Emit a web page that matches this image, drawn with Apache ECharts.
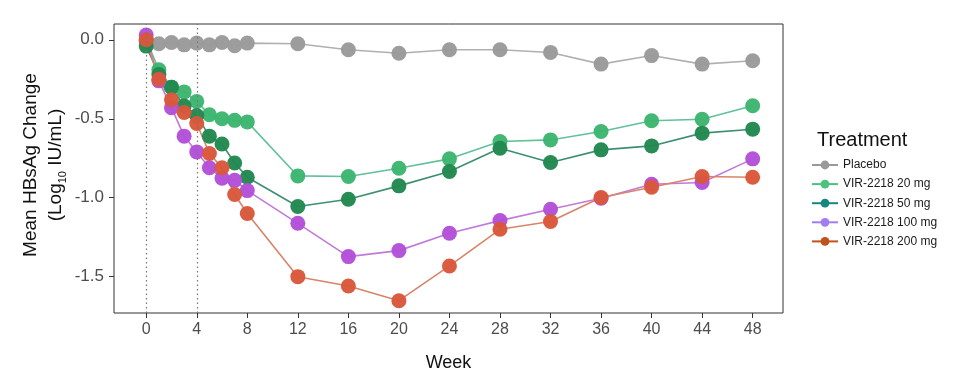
<!DOCTYPE html>
<html>
<head>
<meta charset="utf-8">
<script src="https://cdn.jsdelivr.net/npm/echarts@6/dist/echarts.min.js"></script>
<style>html,body{margin:0;padding:0;background:#fff}#c{width:961px;height:382px}</style>
</head>
<body>
<div id="c"></div>
<script>
const weeks = [0,1,2,3,4,5,6,7,8,12,16,20,24,28,32,36,40,44,48];
const xTicks = [0,4,8,12,16,20,24,28,32,36,40,44,48];
const yTicks = [0,-0.5,-1,-1.5];
const seriesNames = ['Placebo','VIR-2218 20 mg','VIR-2218 50 mg','VIR-2218 100 mg','VIR-2218 200 mg'];
const placebo = [-0.01,-0.025,-0.017,-0.032,-0.021,-0.032,-0.017,-0.038,-0.021,-0.025,-0.063,-0.085,-0.063,-0.063,-0.08,-0.154,-0.10,-0.154,-0.133];
const mg20  = [0,-0.19,-0.30,-0.33,-0.39,-0.475,-0.50,-0.51,-0.52,-0.862,-0.866,-0.813,-0.754,-0.644,-0.634,-0.581,-0.513,-0.503,-0.418];
const mg50  = [-0.04,-0.22,-0.30,-0.42,-0.48,-0.61,-0.66,-0.78,-0.87,-1.056,-1.01,-0.925,-0.834,-0.687,-0.777,-0.697,-0.672,-0.591,-0.566];
const mg100 = [0.03,-0.26,-0.43,-0.61,-0.71,-0.81,-0.876,-0.89,-0.955,-1.162,-1.373,-1.335,-1.225,-1.145,-1.073,-1.003,-0.915,-0.904,-0.754];
const mg200 = [0,-0.25,-0.38,-0.46,-0.53,-0.72,-0.81,-0.98,-1.10,-1.50,-1.559,-1.652,-1.432,-1.20,-1.151,-0.999,-0.934,-0.866,-0.870];
const refWeeks = [0,4];

const allData = [placebo, mg20, mg50, mg100, mg200];
const pointColors = ['#9a9a9a','#3db56f','#22884f','#b34fd8','#d9583b'];
const lineColors  = ['#b0b0b0','#62c09a','#3e8f72','#c27ad8','#d98468'];
const legendColors = ['#999999','#4cc27e','#17867f','#a07ef2','#c0521c'];
const FONT = '"Liberation Sans", Arial, sans-serif';

const series = [];
seriesNames.forEach((n, i) => {
  series.push({
    name: n, type: 'line', data: [], symbol: 'circle', symbolSize: 10,
    itemStyle: {color: legendColors[i]}, lineStyle: {color: legendColors[i], width: 2}
  });
});
allData.forEach((d, i) => {
  const s = {
    name: '_s' + i, type: 'line', symbol: 'circle', symbolSize: 15,
    data: weeks.map((w, j) => [w, d[j]]),
    itemStyle: {color: pointColors[i], opacity: 0.97},
    lineStyle: {color: lineColors[i], width: 1.6},
    emphasis: {disabled: true}, silent: true, animation: false
  };
  if (i === 0) {
    s.markLine = {
      silent: true, symbol: 'none', label: {show: false}, animation: false,
      lineStyle: {color: '#777', type: [1.5, 3], width: 1.2},
      data: refWeeks.map(w => ({xAxis: w}))
    };
    s.z = 2;
  }
  series.push(s);
});

const chart = echarts.init(document.getElementById('c'), null, {renderer: 'canvas'});
chart.setOption({
  animation: false,
  backgroundColor: '#fff',
  textStyle: {fontFamily: FONT},
  title: {
    text: 'Treatment', left: 812, top: 125,
    textStyle: {fontFamily: FONT, fontSize: 20, fontWeight: 'normal', color: '#111'}
  },
  legend: {
    data: seriesNames, orient: 'vertical', left: 806, top: 154,
    itemWidth: 26, itemHeight: 11, itemGap: 7.1,
    textStyle: {fontFamily: FONT, fontSize: 12, color: '#1a1a1a'},
    selectedMode: false
  },
  grid: {
    left: 114, right: 178, top: 24, bottom: 69,
    show: true, borderColor: '#333', borderWidth: 1, backgroundColor: 'transparent'
  },
  xAxis: {
    type: 'value', min: -2.55, max: 50.4,
    axisLine: {show: false, onZero: false},
    splitLine: {show: false},
    axisTick: {show: true, customValues: xTicks, length: 5, lineStyle: {color: '#333'}},
    axisLabel: {customValues: xTicks, margin: 9, fontSize: 16, color: '#4d4d4d', fontFamily: FONT},
    name: 'Week', nameLocation: 'middle', nameGap: 41,
    nameTextStyle: {fontSize: 18, color: '#111', fontFamily: FONT}
  },
  yAxis: {
    type: 'value', min: -1.73, max: 0.10,
    axisLine: {show: false, onZero: false},
    splitLine: {show: false},
    axisTick: {show: true, customValues: yTicks, length: 5, lineStyle: {color: '#333'}},
    axisLabel: {customValues: yTicks, margin: 10, fontSize: 17, color: '#4d4d4d', fontFamily: FONT,
      formatter: v => v.toFixed(1)}
  },
  graphic: [{
    type: 'text', x: 43, y: 165, rotation: Math.PI / 2,
    style: {
      text: 'Mean HBsAg Change\n(Log{sub|10} IU/mL)',
      fontFamily: FONT, fontSize: 19, fill: '#111', align: 'center', verticalAlign: 'middle',
      lineHeight: 25,
      rich: {sub: {fontSize: 11, fontFamily: FONT, fill: '#111', verticalAlign: 'bottom', padding: [7, 0, 0, 0], lineHeight: 25}}
    }
  }],
  series: series
});
</script>
</body>
</html>
